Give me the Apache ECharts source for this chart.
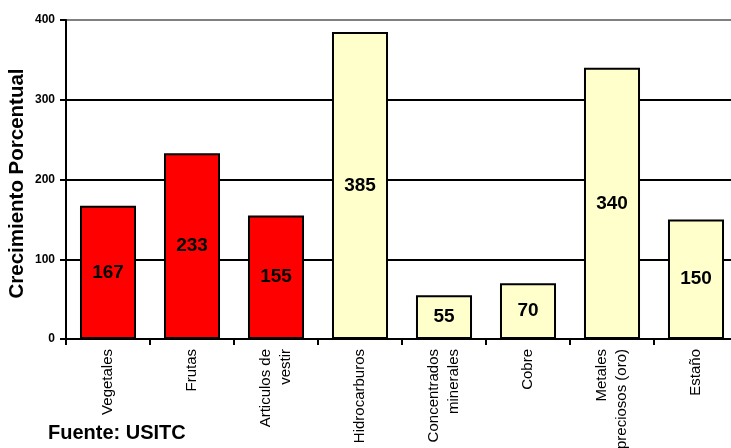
<!DOCTYPE html>
<html>
<head>
<meta charset="utf-8">
<script src="https://cdn.jsdelivr.net/npm/echarts@6/dist/echarts.min.js"></script>
<style>
html,body{margin:0;padding:0;background:#fff;}
#c{width:731px;height:448px;}
</style>
</head>
<body>
<div id="c"></div>
<script>
const categories = ['Vegetales', 'Frutas', 'Articulos de\nvestir', 'Hidrocarburos', 'Concentrados\nminerales', 'Cobre', 'Metales\npreciosos (oro)', 'Estaño'];
const values = [167, 233, 155, 385, 55, 70, 340, 150];
const groups = ['agri', 'agri', 'agri', 'min', 'min', 'min', 'min', 'min'];
const groupColors = { agri: '#FF0000', min: '#FFFFCC' };
const yTicks = [0, 100, 200, 300, 400];
const yAxisTitle = 'Crecimiento Porcentual';
const sourceNote = 'Fuente: USITC';

const FONT = 'Liberation Sans, Arial, Helvetica, sans-serif';
const chart = echarts.init(document.getElementById('c'), null, { renderer: 'canvas' });

chart.setOption({
  animation: false,
  backgroundColor: '#fff',
  grid: { left: 66, top: 20, width: 672, height: 319, containLabel: false, outerBoundsMode: 'none' },
  xAxis: {
    type: 'category',
    data: categories,
    boundaryGap: true,
    axisLine: { lineStyle: { color: '#000', width: 2 } },
    axisTick: { show: true, length: 6, lineStyle: { color: '#000', width: 2 }, alignWithLabel: false },
    axisLabel: { rotate: 90, interval: 0, margin: 10, fontFamily: FONT, fontSize: 15, color: '#000', lineHeight: 20 }
  },
  yAxis: {
    type: 'value',
    min: yTicks[0],
    max: yTicks[yTicks.length - 1],
    interval: 100,
    name: yAxisTitle,
    nameLocation: 'middle',
    nameRotate: 90,
    nameGap: 38,
    nameMoveOverlap: false,
    nameTextStyle: { fontFamily: FONT, fontSize: 20.5, fontWeight: 'bold', color: '#000', padding: [0, 8, 0, 0] },
    axisLine: { show: true, lineStyle: { color: '#000', width: 2 } },
    axisTick: { show: true, length: 6, lineStyle: { color: '#000', width: 2 } },
    axisLabel: { margin: 11, fontFamily: FONT, fontSize: 12, fontWeight: 'bold', color: '#000' },
    splitLine: { show: true, lineStyle: { color: ['#000', '#000', '#000', '#000', '#808080'], width: 2 } }
  },
  series: [{
    type: 'bar',
    data: values.map((v, i) => ({ value: v, itemStyle: { color: groupColors[groups[i]] } })),
    barCategoryGap: '33.3%',
    itemStyle: { borderColor: '#000', borderWidth: 2 },
    label: { show: true, position: 'inside', fontFamily: FONT, fontSize: 19, fontWeight: 'bold', color: '#000' }
  }],
  graphic: [{
    type: 'text',
    left: 48,
    top: 423,
    style: { text: sourceNote, font: 'bold 20px ' + FONT, fill: '#000' }
  }]
});
</script>
</body>
</html>
